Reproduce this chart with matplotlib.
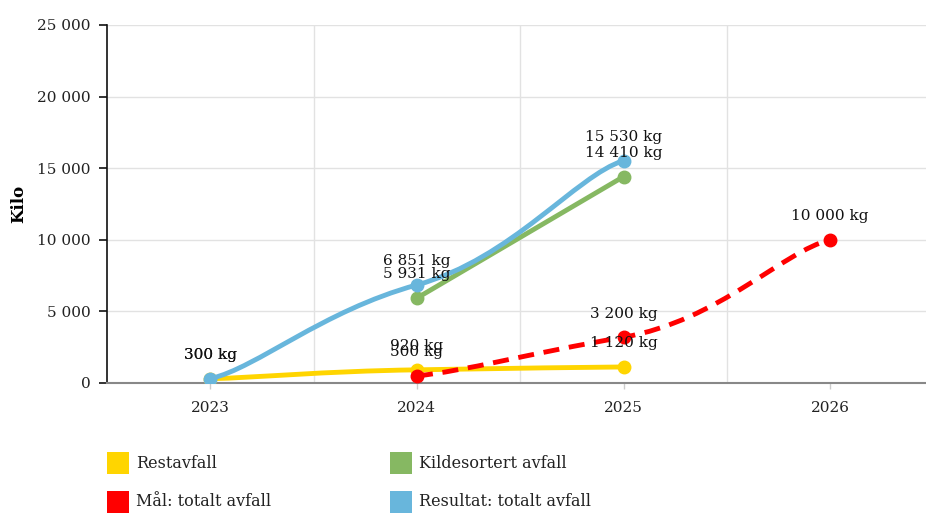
import matplotlib.pyplot as plt
from matplotlib.path import Path
from matplotlib.patches import PathPatch, Rectangle
from matplotlib.ticker import FuncFormatter

plt.rcParams['font.family'] = ['DejaVu Serif']

# Data
years = ["2023", "2024", "2025", "2026"]

rest_x = [0, 1, 2]
rest_y = [300, 920, 1120]

kilde_x = [1, 2]
kilde_y = [5931, 14410]

maal_x = [1, 2, 3]
maal_y = [500, 3200, 10000]

result_x = [0, 1, 2]
result_y = [300, 6851, 15530]

series = [
    ("Restavfall", rest_x, rest_y, "#FFD500", "-"),
    ("Kildesortert avfall", kilde_x, kilde_y, "#86B862", "-"),
    ("Mål: totalt avfall", maal_x, maal_y, "#FF0000", "--"),
    ("Resultat: totalt avfall", result_x, result_y, "#68B6DC", "-"),
]


def smooth_path(xs, ys, ax_t=0.23, ay_t=0.12):
    # tension-style smoothing (separate x/y tension), straight line if < 3 points
    pts = list(zip(xs, ys))
    n = len(pts)
    if n < 3:
        return Path(pts)
    verts = [pts[0]]
    codes = [Path.MOVETO]
    for i in range(n - 1):
        p0 = pts[i - 1] if i > 0 else pts[i]
        p1 = pts[i]
        p2 = pts[i + 1]
        p3 = pts[i + 2] if i + 2 < n else pts[i + 1]
        ca = (p1[0] + ax_t * (p2[0] - p0[0]), p1[1] + ay_t * (p2[1] - p0[1]))
        cb = (p2[0] - ax_t * (p3[0] - p1[0]), p2[1] - ay_t * (p3[1] - p1[1]))
        verts += [ca, cb, p2]
        codes += [Path.CURVE4] * 3
    return Path(verts, codes)


fig = plt.figure(figsize=(9.26, 5.14), dpi=100)
ax = fig.add_axes([107 / 926, 1 - 383 / 514, 1 - 107 / 926, (383 - 25) / 514])

for z, (name, xs, ys, color, ls) in enumerate(series):
    patch = PathPatch(smooth_path(xs, ys), facecolor="none", edgecolor=color, lw=3.5,
                      zorder=3 + z, capstyle="butt")
    if ls == "--":
        patch.set_linestyle((0, (3.3, 2.0)))
    ax.add_patch(patch)
    ax.plot(xs, ys, "o", color=color, markersize=9, zorder=3 + z)
    for x, y in zip(xs, ys):
        ax.annotate(f"{y:,} kg".replace(",", " "), (x, y), xytext=(0, 17),
                    textcoords="offset points", ha="center", va="center",
                    fontsize=11, color="#111111", zorder=10)

ax.set_xlim(-0.5, 3.464)
ax.set_ylim(0, 25000)
ax.set_xticks(range(len(years)))
ax.set_xticklabels(years)
ax.set_xticks([0.5, 1.5, 2.5], minor=True)
ax.set_yticks(range(0, 25001, 5000))
ax.yaxis.set_major_formatter(FuncFormatter(lambda v, p: f"{int(v):,}".replace(",", " ")))

ax.grid(axis="y", color="#e2e2e2", lw=1)
ax.grid(axis="x", which="minor", color="#e2e2e2", lw=1)
ax.set_axisbelow(True)

for s in ["top", "right"]:
    ax.spines[s].set_visible(False)
ax.spines["left"].set_color("#111111")
ax.spines["left"].set_linewidth(1.2)
ax.spines["bottom"].set_color("#888888")
ax.spines["bottom"].set_linewidth(1.5)

ax.tick_params(axis="y", length=6, width=1.2, color="#111111", pad=6,
               labelsize=11, labelcolor="#222222")
ax.tick_params(axis="x", which="major", length=4, width=1, color="#cccccc",
               pad=9, labelsize=11, labelcolor="#222222")
ax.tick_params(axis="x", which="minor", length=0)

ax.set_ylabel("Kilo", fontsize=12, fontweight="bold", labelpad=7)

# Legend (two columns: row 1 Restavfall / Kildesortert, row 2 Mål / Resultat)
W, H = 926, 514
legend_pos = [(107, 452), (390, 452), (107, 491), (390, 491)]
for (lx, ly), (name, _, _, color, _) in zip(legend_pos, series):
    fig.add_artist(Rectangle((lx / W, 1 - (ly + 22) / H), 22 / W, 22 / H,
                             transform=fig.transFigure, facecolor=color, edgecolor="none"))
    fig.text((lx + 29) / W, 1 - (ly + 11) / H, name, fontsize=11.5, color="#222222",
             ha="left", va="center")

fig.savefig("out.png", dpi=100)
